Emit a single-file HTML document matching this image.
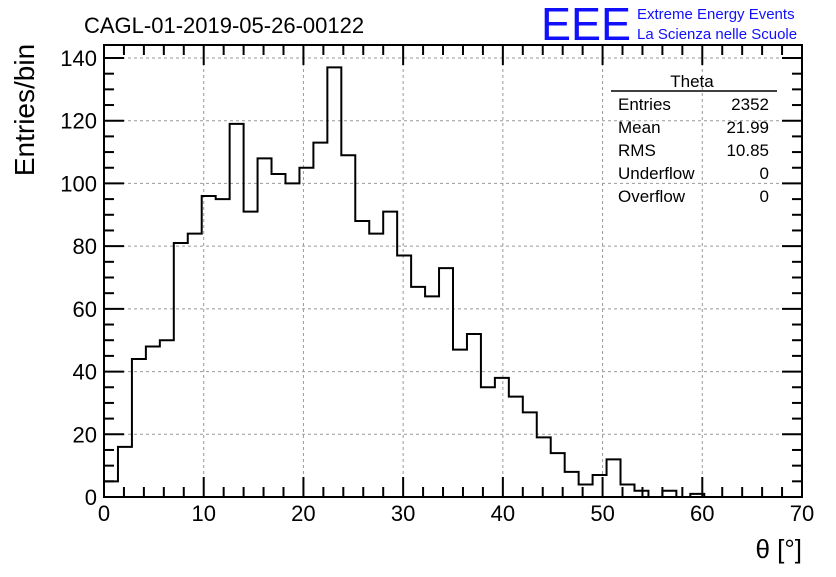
<!DOCTYPE html>
<html><head><meta charset="utf-8"><style>
body{margin:0;background:#fff;}
svg text{font-family:"Liberation Sans",Arial,sans-serif;}
</style></head><body>
<svg id="c" width="836" height="572" xmlns="http://www.w3.org/2000/svg">
<rect width="836" height="572" fill="#fff"/>
<text x="84" y="33" font-size="22">CAGL-01-2019-05-26-00122</text>
<text x="541" y="40" font-size="46" fill="#1010ff" textLength="90" lengthAdjust="spacingAndGlyphs">EEE</text>
<text x="637" y="19" font-size="15" fill="#1010ff">Extreme Energy Events</text>
<text x="637" y="39" font-size="15" fill="#1010ff">La Scienza nelle Scuole</text>
<g id="grid"></g>
<g id="ticks"></g>
<path id="hist" fill="none" stroke="#000" stroke-width="2"/>
<rect x="104" y="45" width="698" height="452" fill="none" stroke="#000" stroke-width="2"/>
<g id="labels"></g>
<text x="34" y="110" font-size="28" transform="rotate(-90 34 110)" text-anchor="middle">Entries/bin</text>
<text x="802" y="558" font-size="26" text-anchor="end">θ [°]</text>
<g>
<text x="692" y="87" font-size="17" text-anchor="middle">Theta</text>
<line x1="611" y1="91" x2="777" y2="91" stroke="#000" stroke-width="1.5"/>
<g id="stats"></g>
</g>
</svg>
<script>
const binWidth = 1.4;
const counts = [5,16,44,48,50,81,84,96,95,119,91,108,103,100,105,113,137,109,88,84,91,77,67,64,73,47,52,35,38,32,27,19,14,8,4,7,12,4,2,0,2,0,1];
const xTicks = [0,10,20,30,40,50,60,70];
const yTicks = [0,20,40,60,80,100,120,140];
const statNames = ["Entries","Mean","RMS","Underflow","Overflow"];
const statValues = ["2352","21.99","10.85","0","0"];

const NS="http://www.w3.org/2000/svg";
const X=v=>104+v*(698/70);
const Y=v=>497-v*(439/140);
function mk(tag,attrs,parent){const e=document.createElementNS(NS,tag);for(const k in attrs)e.setAttribute(k,attrs[k]);document.getElementById(parent).appendChild(e);return e;}
xTicks.slice(1,-1).forEach(t=>{const l=mk('line',{x1:X(t),x2:X(t),y1:45,y2:497,stroke:'#999','stroke-dasharray':'3,3'},'grid');

});
yTicks.slice(1).forEach(t=>{const l=mk('line',{x1:104,x2:802,y1:Y(t),y2:Y(t),stroke:'#999','stroke-dasharray':'3,3'},'grid');

});
for(let v=0;v<=70;v+=2){const L=v%10===0?20:10;
mk('line',{x1:X(v),x2:X(v),y1:497,y2:497-L,stroke:'#000','stroke-width':2},'ticks');
mk('line',{x1:X(v),x2:X(v),y1:45,y2:45+L,stroke:'#000','stroke-width':2},'ticks');}
for(let v=0;v<=140;v+=5){const L=v%20===0?20:10;
mk('line',{x1:104,x2:104+L,y1:Y(v),y2:Y(v),stroke:'#000','stroke-width':2},'ticks');
mk('line',{x1:802,x2:802-L,y1:Y(v),y2:Y(v),stroke:'#000','stroke-width':2},'ticks');}
xTicks.forEach(t=>{const e=mk('text',{x:X(t),y:521,'font-size':22,'text-anchor':'middle'},'labels');e.textContent=t;

});
yTicks.forEach(t=>{const e=mk('text',{x:97,y:Y(t)+8,'font-size':22,'text-anchor':'end'},'labels');e.textContent=t;

});
let d=`M${X(0)},${Y(0)}`;
counts.forEach((c,i)=>{d+=` L${X(i*binWidth)},${Y(c)} L${X((i+1)*binWidth)},${Y(c)}`;});
d+=` L${X(counts.length*binWidth)},${Y(0)}`;
document.getElementById('hist').setAttribute('d',d);
statNames.forEach((n,i)=>{const y=110+i*23;
const a=mk('text',{x:618,y:y,'font-size':17},'stats');a.textContent=n;


const b=mk('text',{x:769,y:y,'font-size':17,'text-anchor':'end'},'stats');b.textContent=statValues[i];

});
</script>
</body></html>
